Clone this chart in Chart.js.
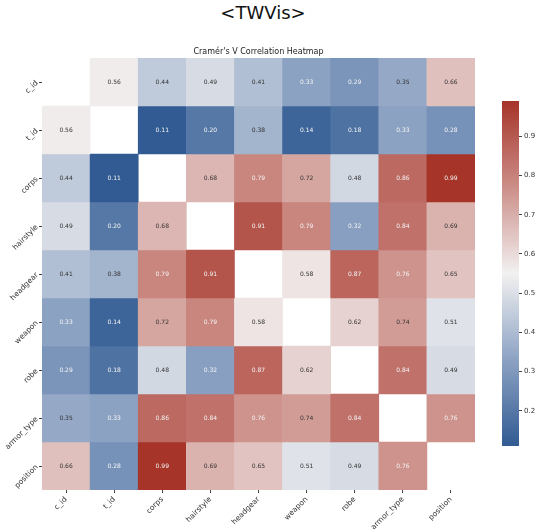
<!DOCTYPE html>
<html>
<head>
<meta charset="utf-8">
<script src="https://cdn.jsdelivr.net/npm/chart.js@4.4.0/dist/chart.umd.min.js"></script>
<style>
  body { margin: 0; background: #fff; }
  #wrap { position: relative; width: 541px; height: 532px; overflow: hidden; }
  #heat { position: absolute; left: 0; top: 0; }
  #cbar { position: absolute; left: 490px; top: 90px; }
  #brand {
    position: absolute; left: 0; top: 2px; width: 526px; text-align: center;
    font-family: "DejaVu Sans", sans-serif; font-size: 18px; color: #111;
  }
</style>
</head>
<body>
<div id="wrap">
  <div id="brand">&lt;TWVis&gt;</div>
  <canvas id="heat" width="541" height="532"></canvas>
  <canvas id="cbar" width="51" height="366"></canvas>
</div>
<script>
// variables (rows and columns are the same)
const fields = ['c_id', 't_id', 'corps', 'hairstyle', 'headgear', 'weapon', 'robe', 'armor_type', 'position'];

// Cramér's V, one row per field (null = diagonal, left blank)
const row_c_id       = [null, 0.56, 0.44, 0.49, 0.41, 0.33, 0.29, 0.35, 0.66];
const row_t_id       = [0.56, null, 0.11, 0.20, 0.38, 0.14, 0.18, 0.33, 0.28];
const row_corps      = [0.44, 0.11, null, 0.68, 0.79, 0.72, 0.48, 0.86, 0.99];
const row_hairstyle  = [0.49, 0.20, 0.68, null, 0.91, 0.79, 0.32, 0.84, 0.69];
const row_headgear   = [0.41, 0.38, 0.79, 0.91, null, 0.58, 0.87, 0.76, 0.65];
const row_weapon     = [0.33, 0.14, 0.72, 0.79, 0.58, null, 0.62, 0.74, 0.51];
const row_robe       = [0.29, 0.18, 0.48, 0.32, 0.87, 0.62, null, 0.84, 0.49];
const row_armor_type = [0.35, 0.33, 0.86, 0.84, 0.76, 0.74, 0.84, null, 0.76];
const row_position   = [0.66, 0.28, 0.99, 0.69, 0.65, 0.51, 0.49, 0.76, null];
const rows = [row_c_id, row_t_id, row_corps, row_hairstyle, row_headgear, row_weapon, row_robe, row_armor_type, row_position];

// colour scale range + colorbar ticks
const vmin = 0.11;
const vmax = 0.99;
const cbarTicks = [0.2, 0.3, 0.4, 0.5, 0.6, 0.7, 0.8, 0.9];

// blue - light - red diverging map (position 0..1 -> rgb)
const cmapStops = [
  [0.00, [49, 91, 146]],
  [0.25, [140, 162, 195]],
  [0.50, [242, 241, 241]],
  [0.75, [204, 142, 136]],
  [1.00, [166, 52, 41]]
];

function cmap(t) {
  t = Math.max(0, Math.min(1, t));
  for (let i = 1; i < cmapStops.length; i++) {
    const [t1, c1] = cmapStops[i];
    const [t0, c0] = cmapStops[i - 1];
    if (t <= t1) {
      const f = (t - t0) / (t1 - t0);
      return c0.map((v, k) => Math.round(v + (c1[k] - v) * f));
    }
  }
  return cmapStops[cmapStops.length - 1][1];
}
function colorFor(v) {
  const c = cmap((v - vmin) / (vmax - vmin));
  return `rgb(${c[0]},${c[1]},${c[2]})`;
}

const FONT = '"DejaVu Sans", sans-serif';

// annotate each cell with its value
const cellLabels = {
  id: 'cellLabels',
  afterDatasetsDraw(chart) {
    const ctx = chart.ctx;
    ctx.save();
    ctx.font = '6px ' + FONT;
    ctx.textAlign = 'center';
    ctx.textBaseline = 'middle';
    rows.forEach((row, r) => {
      const meta = chart.getDatasetMeta(r);
      row.forEach((v, c) => {
        if (v === null) return;
        const bar = meta.data[c];
        const light = v >= 0.34 && v <= 0.75;
        ctx.fillStyle = light ? '#333' : '#f4f4f4';
        ctx.fillText(v.toFixed(2), bar.x, (bar.y + bar.base) / 2);
      });
    });
    ctx.restore();
  }
};

const heatData = {
  labels: fields,
  datasets: rows.map((row, r) => ({
    label: fields[r],
    data: row.map(v => v === null ? null : [r, r + 1]),
    backgroundColor: row.map(v => v === null ? '#fff' : colorFor(v)),
    borderWidth: 0,
    barPercentage: 1,
    categoryPercentage: 1,
    grouped: false
  }))
};

new Chart(document.getElementById('heat'), {
  type: 'bar',
  data: heatData,
  options: {
    responsive: false,
    animation: false,
    devicePixelRatio: 1,
    layout: { padding: { top: 0, right: 66, left: 0, bottom: 0 } },
    plugins: {
      legend: { display: false },
      tooltip: { enabled: false },
      title: {
        display: true,
        fullSize: false,
        text: "Cramér's V Correlation Heatmap",
        color: '#222',
        font: { family: FONT, size: 8, weight: 'normal', lineHeight: 1.2 },
        padding: { top: 47, bottom: 1.4 }
      }
    },
    scales: {
      x: {
        type: 'category',
        offset: true,
        grid: { display: true, drawOnChartArea: false, offset: false, tickLength: 3, color: '#444' },
        border: { display: false },
        ticks: {
          minRotation: 45, maxRotation: 45, padding: 2, autoSkip: false,
          color: '#333', font: { family: FONT, size: 7.5 }
        },
        afterFit(scale) { scale.height = 42; }
      },
      y: {
        type: 'linear',
        min: 0, max: fields.length,
        reverse: true,
        grid: { display: true, drawOnChartArea: false, tickLength: 3, color: '#444' },
        border: { display: false },
        afterBuildTicks(scale) {
          scale.ticks = fields.map((f, i) => ({ value: i + 0.5 }));
        },
        ticks: {
          minRotation: 45, maxRotation: 45, padding: 2,
          color: '#333', font: { family: FONT, size: 7.5 },
          callback: (value) => fields[Math.floor(value)]
        },
        afterFit(scale) { scale.width = 42; }
      }
    }
  },
  plugins: [cellLabels]
});

// colorbar: gradient filled into the chart area, ticks from the y scale
const gradientFill = {
  id: 'gradientFill',
  beforeDatasetsDraw(chart) {
    const { ctx, chartArea } = chart;
    const y = chart.scales.y;
    const g = ctx.createLinearGradient(0, y.getPixelForValue(vmin), 0, y.getPixelForValue(vmax));
    for (let i = 0; i <= 40; i++) {
      const t = i / 40;
      const c = cmap(t);
      g.addColorStop(t, `rgb(${c[0]},${c[1]},${c[2]})`);
    }
    ctx.save();
    ctx.fillStyle = g;
    ctx.fillRect(chartArea.left, chartArea.top, chartArea.right - chartArea.left, chartArea.bottom - chartArea.top);
    ctx.restore();
  }
};

new Chart(document.getElementById('cbar'), {
  type: 'bar',
  data: { labels: [''], datasets: [{ data: [], backgroundColor: 'transparent' }] },
  options: {
    responsive: false,
    animation: false,
    devicePixelRatio: 1,
    layout: { padding: { top: 11, bottom: 10, left: 12, right: 0 } },
    plugins: { legend: { display: false }, tooltip: { enabled: false } },
    scales: {
      x: { display: false },
      y: {
        position: 'right',
        min: vmin, max: vmax,
        grid: { display: true, drawOnChartArea: false, tickLength: 3, color: '#444' },
        border: { display: false },
        afterBuildTicks(scale) {
          scale.ticks = cbarTicks.map(v => ({ value: v }));
        },
        ticks: {
          padding: 2, color: '#333', font: { family: FONT, size: 7 },
          callback: (v) => v.toFixed(1)
        },
        afterFit(scale) { scale.width = 22; }
      }
    }
  },
  plugins: [gradientFill]
});
</script>
</body>
</html>
